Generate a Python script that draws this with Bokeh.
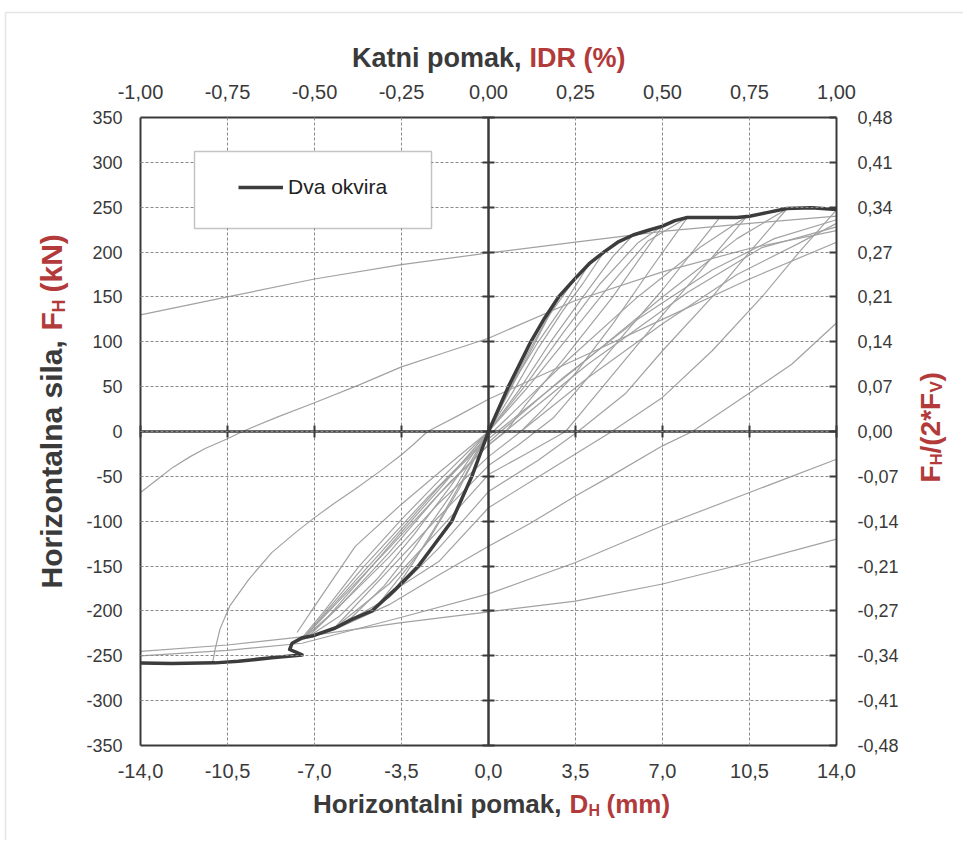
from bokeh.plotting import figure
from bokeh.models import (Range1d, LinearAxis, FixedTicker, CustomJSTickFormatter, Label,
                          Legend, LegendItem, BoxAnnotation)
from bokeh.embed import file_html
from bokeh.resources import INLINE

# ---------------- data (D in mm, F in kN) ----------------
env_d = [-14.0, -12.74, -11.0, -10.06, -8.72, -7.5, -7.75, -8.0, -7.9, -7.5, -7.1, -6.17, -5.5, -4.69,
         -3.75, -2.82, -1.48, -0.67, 0.0, 0.8, 1.7, 2.25, 2.82, 3.5, 4.05, 4.64, 5.2, 5.82, 6.4, 7.0,
         7.5, 8.0, 9.0, 10.0, 10.5, 11.2, 12.0, 13.0, 14.0]
env_f = [-258, -258.5, -257.9, -256, -252.3, -249, -246, -243, -236, -230, -228, -219, -209.5, -200,
         -176, -150, -100, -50, 0, 50, 100, 126, 150, 171, 187, 200, 211, 219, 224, 229,
         235, 238.5, 238.5, 238.5, 240, 244, 248.5, 249.5, 247.5]

a_d = [-14, -10.5, -7, -3.5, 0, 3.5, 7, 10.5, 14]
a_f = [130, 150, 170, 186, 199, 211, 223, 232, 240]
b_d = [-14, -13.3, -12.7, -12.0, -11.4, -10.5, -9.9, -8.5, -7, -5.2, -3.5, -1.75, 0, 3.5, 7, 10.5, 14]
b_f = [-68, -53, -40, -28, -19, -8, 0, 16, 32, 52, 72, 88, 104, 146, 178, 204, 224]
c_d = [-11.1, -11.0, -10.8, -10.4, -9.65, -8.72, -7.78, -7.0, -6.2, -5.36, -4.4, -3.5, -3.0, -2.45,
       -1.2, 0, 3.5, 7, 10.5, 14]
c_f = [-258, -243, -220, -194, -165, -135, -113, -96, -80, -64, -45, -26, -14, 0,
       18, 36, 80, 125, 170, 211]
r1_d = [14, 10.5, 7, 3.5, 0, -3.5, -7.5, -10.5, -14]
r1_f = [-31, -68, -105, -146, -181, -207, -236, -244, -250]
r2_d = [14, 10.5, 7, 3.5, 0, -3.5, -7.5, -10.5, -14]
r2_f = [-120, -146, -170, -189, -201, -213, -229, -238, -245]
r3_d = [14, 12.2, 10.5, 8.2, 7, 4.9, 3.5, 1.7, 0, -2, -4, -6.2, -7.5]
r3_f = [121, 75, 43, 0, -16, -50, -72, -102, -128, -160, -193, -221, -232]
u0_d = [7.0, 5, 3, 1.5, 0.7, 0, -2, -4, -6, -7.3]
u0_f = [229, 150, 80, 30, 0, -15, -70, -135, -195, -230]
u1_d = [8.0, 6.5, 5, 3.5, 2.2, 1.3, 0, -2, -4, -6, -7.5]
u1_f = [238.5, 180, 120, 65, 25, 0, -28, -80, -140, -195, -232]
u2_d = [10.4, 8.5, 7, 5.5, 4, 3.1, 1.5, 0, -2, -4, -6.2]
u2_f = [240, 178, 130, 80, 30, 0, -25, -48, -110, -170, -219]
u3_d = [12.0, 10.5, 9, 7, 5.5, 3.6, 2, 0, -2, -4, -5.5]
u3_f = [248, 200, 150, 90, 42, 0, -32, -67, -130, -185, -209]
u4_d = [14, 12.5, 11, 9, 7, 4.96, 2.5, 0, -2, -3.75]
u4_f = [247, 200, 150, 90, 38, 0, -42, -85, -145, -176]
u5_d = [9.3, 8.2, 7, 5.5, 4, 2.6, 1.2, 0, -2, -4.2, -6.2]
u5_f = [238.5, 200, 158, 110, 60, 15, -15, -38, -95, -160, -219]
n1_d = [-7.7, -7, -5.36, -3.5, -2, 0, 1.5, 3, 4.5, 6, 7]
n1_f = [-224, -195, -128, -81, -46, 0, 52, 110, 165, 210, 229]
n2_d = [-7.5, -6.6, -5.2, -3.5, -2, 0, 1.6, 3.2, 4.8, 6.4, 8.0]
n2_f = [-230, -200, -150, -98, -55, 0, 50, 105, 160, 212, 238.5]
n3_d = [-7.4, -6.5, -5, -3.5, -2, 0, 1.2, 2.5, 3.8, 5.0, 5.82]
n3_f = [-230, -208, -160, -112, -65, 0, 45, 100, 150, 195, 219]
n4_d = [-7.2, -6, -4.5, -3, -1.5, 0, 1.0, 2.0, 3.0, 3.8, 4.64]
n4_f = [-228, -206, -165, -115, -60, 0, 45, 93, 135, 165, 200]
n5_d = [-6.2, -5.5, -4.2, -3, -1.5, 0, 1, 2, 3, 4.05]
n5_f = [-219, -207, -172, -130, -70, 0, 55, 100, 140, 187]
n6_d = [-4.69, -4.5, -3.5, -2.5, -1.2, 0, 0.9, 1.8, 2.82]
n6_f = [-200, -195, -160, -125, -65, 0, 48, 95, 150]
n7_d = [-3.75, -3, -2, -1, 0, 0.8, 1.6, 2.4, 3.5]
n7_f = [-176, -145, -100, -52, 0, 45, 88, 128, 171]
v1_d = [-7.5, -5, -2.5, 0, 3, 6, 8.5, 10.4]
v1_f = [-232, -150, -75, -5, 75, 150, 205, 240]
v2_d = [-7.5, -4.5, -2, 0, 3.5, 7, 10, 12]
v2_f = [-232, -140, -62, -8, 70, 150, 215, 248]
v3_d = [-7.5, -4, -1.5, 0, 4, 8, 11, 14]
v3_f = [-232, -130, -55, -15, 75, 155, 205, 228]
w1_d = [0, 3, 6, 9, 11.5, 14]
w1_f = [-12, 60, 125, 180, 215, 236]
w2_d = [1.3, 4, 7, 10, 12.5, 14]
w2_f = [0, 60, 120, 175, 210, 232]

gray_xs = [a_d, b_d, c_d, r1_d, r2_d, r3_d, u0_d, u1_d, u2_d, u3_d, u4_d, u5_d,
           n1_d, n2_d, n3_d, n4_d, n5_d, n6_d, n7_d, v1_d, v2_d, v3_d, w1_d, w2_d]
gray_ys = [a_f, b_f, c_f, r1_f, r2_f, r3_f, u0_f, u1_f, u2_f, u3_f, u4_f, u5_f,
           n1_f, n2_f, n3_f, n4_f, n5_f, n6_f, n7_f, v1_f, v2_f, v3_f, w1_f, w2_f]

x_ticks = [-14.0, -10.5, -7.0, -3.5, 0.0, 3.5, 7.0, 10.5, 14.0]
y_ticks = [-350, -300, -250, -200, -150, -100, -50, 0, 50, 100, 150, 200, 250, 300, 350]
idr_ticks = [-1.0, -0.75, -0.5, -0.25, 0.0, 0.25, 0.5, 0.75, 1.0]
x_lim = 14.0
y_lim = 350.0
ratio_lim = 0.48
ratio_ticks = [k * ratio_lim / 7 for k in range(-7, 8)]

# ---------------- layout geometry (canvas pixels) ----------------
W, H = 963, 840                      # canvas == frame
BL, BR, BT, BB = 140, 836, 117, 745  # plot box edges
sx_per = (BR - BL) / (2 * x_lim)
sy_per = (BB - BT) / (2 * y_lim)
x0 = -x_lim - BL / sx_per
x1 = x_lim + (W - BR) / sx_per
y1 = y_lim + BT / sy_per
y0 = -y_lim - (H - BB) / sy_per

DARK = "#3a3a3a"
RED = "#b23a3a"
GRAY = "#a2a2a2"
GRID = "#8a8a8a"
SANS = "Liberation Sans"

p = figure(frame_width=W, frame_height=H, min_border=0,
           x_range=Range1d(x0, x1), y_range=Range1d(y0, y1),
           output_backend="svg", toolbar_location=None,
           background_fill_color="white", border_fill_color="white")
p.extra_x_ranges = {"idr": Range1d(x0 / x_lim, x1 / x_lim)}
p.extra_y_ranges = {"ratio": Range1d(y0 * ratio_lim / y_lim, y1 * ratio_lim / y_lim)}
p.outline_line_color = None
p.xgrid.visible = False
p.ygrid.visible = False

empty = CustomJSTickFormatter(code="return '';")

def base(ax, font_size, standoff):
    ax.minor_tick_line_color = None
    ax.major_tick_in = 0
    ax.major_tick_out = 0
    ax.axis_line_color = DARK
    ax.axis_line_width = 2
    ax.major_label_text_font = SANS
    ax.major_label_text_font_size = font_size
    ax.major_label_text_color = DARK
    ax.major_label_standoff = standoff

# bottom axis (box bottom edge)
bx = p.xaxis[0]
bx.fixed_location = -y_lim
bx.bounds = (-x_lim, x_lim)
bx.ticker = FixedTicker(ticks=x_ticks)
bx.formatter = CustomJSTickFormatter(code="return tick.toFixed(1).replace('.', ',');")
base(bx, "20px", 18)

# left axis (box left edge)
ly = p.yaxis[0]
ly.fixed_location = -x_lim
ly.bounds = (-y_lim, y_lim)
ly.ticker = FixedTicker(ticks=y_ticks)
ly.formatter = CustomJSTickFormatter(code="return tick.toFixed(0);")
base(ly, "18px", 18)

# top axis (IDR)
tx = LinearAxis(x_range_name="idr", fixed_location=y_lim, bounds=(-1, 1),
                ticker=FixedTicker(ticks=idr_ticks),
                formatter=CustomJSTickFormatter(code="return tick.toFixed(2).replace('.', ',');"))
base(tx, "20px", 19)
p.add_layout(tx, "above")

# right axis (FH / (2*FV))
ry = LinearAxis(y_range_name="ratio", fixed_location=x_lim, bounds=(-ratio_lim, ratio_lim),
                ticker=FixedTicker(ticks=ratio_ticks),
                formatter=CustomJSTickFormatter(code="return tick.toFixed(2).replace('.', ',');"))
base(ry, "18px", 21)
ry.major_tick_in = 7
ry.major_tick_line_color = DARK
ry.major_tick_line_width = 2
p.add_layout(ry, "right")

# dashed grid lines drawn as long ticks of unlabeled axes
gx = LinearAxis(fixed_location=-y_lim, bounds=(-x_lim, x_lim), ticker=FixedTicker(ticks=x_ticks[1:-1]),
                formatter=empty)
gx.axis_line_color = None
gx.minor_tick_line_color = None
gx.major_tick_in = BB - BT
gx.major_tick_out = 0
gx.major_tick_line_color = GRID
gx.major_tick_line_dash = "3 2"
gx.major_tick_line_width = 1
p.add_layout(gx, "below")

gy = LinearAxis(fixed_location=-x_lim, bounds=(-y_lim, y_lim), ticker=FixedTicker(ticks=y_ticks[1:-1]),
                formatter=empty)
gy.axis_line_color = None
gy.minor_tick_line_color = None
gy.major_tick_in = BR - BL
gy.major_tick_out = 0
gy.major_tick_line_color = GRID
gy.major_tick_line_dash = "3 2"
gy.major_tick_line_width = 1
p.add_layout(gy, "left")

# curves
p.multi_line(gray_xs, gray_ys, line_color=GRAY, line_width=1.2)
env = p.line(env_d, env_f, line_color="#3c3c3c", line_width=3.5, line_join="round")

# zero axes inside the box
zx = LinearAxis(fixed_location=0, bounds=(-x_lim, x_lim), ticker=FixedTicker(ticks=x_ticks),
                formatter=empty)
zy = LinearAxis(fixed_location=0, bounds=(-y_lim, y_lim), ticker=FixedTicker(ticks=y_ticks),
                formatter=empty)
for z in (zx, zy):
    z.axis_line_color = DARK
    z.axis_line_width = 2.5
    z.major_tick_in = 6
    z.major_tick_out = 6
    z.major_tick_line_color = DARK
    z.major_tick_line_width = 2
    z.minor_tick_line_color = None
p.add_layout(zx, "below")
p.add_layout(zy, "left")

# ---------------- annotations (canvas pixel -> data coords) ----------------
def xd(px):
    return x0 + px / sx_per

def yd(py):
    return y1 - py / sy_per

def lab(text, px, py, color, size, style="bold", align="left", angle=0):
    p.add_layout(Label(x=xd(px), y=yd(py), text=text, text_color=color, text_font=SANS,
                       text_font_size=size, text_font_style=style, text_align=align,
                       text_baseline="middle", angle=angle, angle_units="deg"))

# outer chart-area border
p.add_layout(BoxAnnotation(left=xd(5), right=xd(1000), top=yd(12), bottom=yd(900),
                           fill_alpha=0, line_color="#a8a8a8", line_width=1.5))

# legend box
p.add_layout(BoxAnnotation(left=xd(194), right=xd(431), top=yd(151), bottom=yd(228),
                           fill_color="white", fill_alpha=1.0, line_color=DARK, line_width=1.5))
legend = Legend(items=[LegendItem(label="Dva okvira", renderers=[env])],
                location=(238, H - 199), border_line_color=None, background_fill_alpha=0,
                padding=0, margin=0, spacing=0, glyph_width=45, glyph_height=20,
                label_height=20, label_standoff=5, label_text_font=SANS,
                label_text_font_size="21px", label_text_color="#222222")
p.add_layout(legend)

# top title
lab("Katni pomak,", 521, 57, DARK, "27px", align="right")
lab("IDR (%)", 529, 57, RED, "27px")
# bottom title
lab("Horizontalni pomak,", 561, 803, DARK, "26px", align="right")
lab("D", 569, 803, RED, "26px")
lab("H", 588, 810, RED, "16px")
lab("(mm)", 606, 803, RED, "26px")
# left title (rotated)
lab("Horizontalna sila,", 51, 588, DARK, "30px", angle=90)
lab("F", 51, 330, RED, "30px", angle=90)
lab("H", 58, 312, RED, "18px", angle=90)
lab("(kN)", 51, 292, RED, "30px", angle=90)
# right title (rotated)
lab("F", 930, 482, RED, "28px", angle=90)
lab("H", 936, 465, RED, "17px", angle=90)
lab("/(2*F", 930, 453, RED, "28px", angle=90)
lab("V", 936, 392, RED, "17px", angle=90)
lab(")", 930, 381, RED, "28px", angle=90)

open("out.html", "w").write(file_html(p, INLINE))
